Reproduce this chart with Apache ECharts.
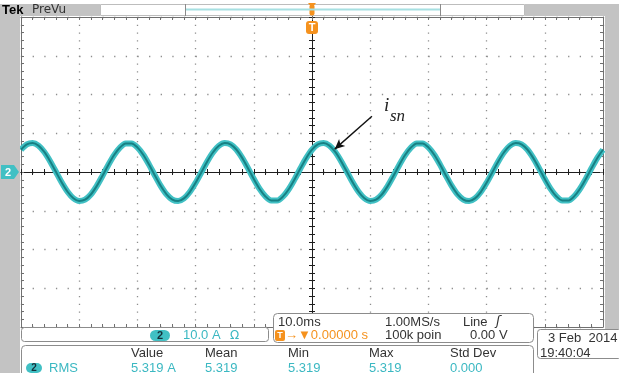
<!DOCTYPE html>
<html>
<head>
<meta charset="utf-8">
<script src="https://cdn.jsdelivr.net/npm/echarts@6/dist/echarts.min.js"></script>
<style>
html, body { margin: 0; padding: 0; background: #fff; }
#scope { width: 619px; height: 373px; }
</style>
</head>
<body>
<div id="scope"></div>
<script>
// time base: 10 ms/div, 10 divisions, trigger at the centre
const timeMin = -50, timeMax = 50, timeDiv = 10;
// channel 2: 10 A/div, 8 divisions
const ampMin = -40, ampMax = 40, ampDiv = 10;

// samples, one per ms from -50 ms
const sampleStartMs = -50;
const sampleStepMs = 1;
const currentA = [
    5.75, 7.12, 7.49, 6.81, 5.17, 2.80, 0.05, -2.72, -5.10, -6.77,
    -7.48, -7.15, -5.81, -3.65, -0.99, 1.82, 4.37, 6.31, 7.36, 7.38,
    6.36, 4.45, 1.91, -0.89, -3.57, -5.75, -7.12, -7.49, -6.81, -5.17,
    -2.80, -0.05, 2.72, 5.10, 6.77, 7.48, 7.15, 5.81, 3.65, 0.99,
    -1.82, -4.37, -6.31, -7.36, -7.38, -6.36, -4.45, -1.91, 0.89, 3.57,
    5.75, 7.12, 7.49, 6.81, 5.17, 2.80, 0.05, -2.72, -5.10, -6.77,
    -7.48, -7.15, -5.81, -3.65, -0.99, 1.82, 4.37, 6.31, 7.36, 7.38,
    6.36, 4.45, 1.91, -0.89, -3.57, -5.75, -7.12, -7.49, -6.81, -5.17,
    -2.80, -0.05, 2.72, 5.10, 6.77, 7.48, 7.15, 5.81, 3.65, 0.99,
    -1.82, -4.37, -6.31, -7.36, -7.38, -6.36, -4.45, -1.91, 0.89, 3.57,
    5.75
];

// annotation arrow (ms, A)
const arrowFrom = [10.3, 14.4];
const arrowTo = [3.9, 5.9];

// readouts
const measHeaders = ["Value", "Mean", "Min", "Max", "Std Dev"];
const measValues = ["5.319 A", "5.319", "5.319", "5.319", "0.000"];

const tracePoints = currentA.map((v, i) => [sampleStartMs + i * sampleStepMs, v]);

const borderColor = "#707070";
const crossColor = "#1e1e1e";
const lightTeal = "#41c0c4";
const darkTeal = "#178083";
const readTeal = "#3bb8c2";
const orange = "#f5921e";
const labelColor = "#333";
const uiFont = "13px 'Liberation Sans', Arial, sans-serif";

function timeAxis(extra, color, inside) {
    return Object.assign({
        type: "value", min: timeMin, max: timeMax, interval: timeDiv,
        axisLabel: { show: false },
        splitLine: { show: false },
        axisLine: { show: true, onZero: false, lineStyle: { color: color, width: 1 } },
        axisTick: { show: true, inside: inside, length: 3, lineStyle: { color: color } },
        minorTick: { show: true, splitNumber: 5, length: 3, lineStyle: { color: color } }
    }, extra);
}

function ampAxis(extra, color, inside) {
    return Object.assign({
        type: "value", min: ampMin, max: ampMax, interval: ampDiv,
        axisLabel: { show: false },
        splitLine: { show: false },
        axisLine: { show: true, onZero: false, lineStyle: { color: color, width: 1 } },
        axisTick: { show: true, inside: inside, length: 3, lineStyle: { color: color } },
        minorTick: { show: true, splitNumber: 5, length: 3, lineStyle: { color: color } }
    }, extra);
}

function txt(x, y, s, color, font, align) {
    return {
        type: "text", z: 20,
        style: {
            x: x, y: y, text: s, fill: color, font: font || uiFont,
            textAlign: align || "left", align: align || "left",
            textVerticalAlign: "middle", verticalAlign: "middle"
        }
    };
}

function box(x, y, w, h, fill, stroke, r) {
    return {
        type: "rect", z: 10,
        shape: { x: x, y: y, width: w, height: h, r: r || 0 },
        style: { fill: fill, stroke: stroke || null, lineWidth: 1 }
    };
}

const chart = echarts.init(document.getElementById("scope"), null, { renderer: "canvas" });

const graphics = [
    // left and right grey bars, top banner
    box(0, 4, 20, 369, "#c3c3c3"),
    box(0, 4, 100, 12, "#c3c3c3"),
    box(525, 4, 94, 12, "#c3c3c3"),
    box(605, 4, 14, 325, "#c3c3c3"),
    box(100.5, 4.5, 424, 11, "#fff", "#bdbdbd"),
    { type: "line", z: 11, shape: { x1: 185.5, y1: 4, x2: 185.5, y2: 16 }, style: { stroke: "#8a8a8a", lineWidth: 1 } },
    { type: "line", z: 11, shape: { x1: 440.5, y1: 4, x2: 440.5, y2: 16 }, style: { stroke: "#8a8a8a", lineWidth: 1 } },
    { type: "line", z: 11, shape: { x1: 186, y1: 9.5, x2: 440, y2: 9.5 }, style: { stroke: "#a6e0e2", lineWidth: 2 } },
    txt(2, 10, "Tek", "#000", "bold 13px 'Liberation Sans', Arial, sans-serif"),
    txt(32, 10, "PreVu", "#333", "12px 'DejaVu Sans', sans-serif"),

    // trigger position markers
    box(309.5, 4.5, 5, 11, orange, null, 2),
    { type: "polygon", z: 11, shape: { points: [[308, 3], [316, 3], [312, 8]] }, style: { fill: orange } },
    box(306, 21, 12, 13, orange, null, 3),
    txt(312, 28, "T", "#fff", "bold 11px 'Liberation Sans', Arial, sans-serif", "center"),

    // channel 2 ground marker
    { type: "polygon", z: 11, shape: { points: [[1, 165], [14, 165], [19, 172], [14, 179], [1, 179]] }, style: { fill: lightTeal } },
    txt(8, 172.5, "2", "#fff", "bold 11px 'Liberation Sans', Arial, sans-serif", "center"),

    // channel readout
    box(21.5, 327.5, 247, 14, "#fff", "#8c8c8c", 3),
    box(150, 330, 20, 11, lightTeal, null, 5.5),
    txt(160, 335.5, "2", "#14303a", "bold 11px 'Liberation Sans', Arial, sans-serif", "center"),
    txt(183, 335.5, "10.0 A", readTeal),
    txt(230, 335.5, "\u03a9", readTeal, "12px 'DejaVu Sans', sans-serif"),

    // time base readout
    box(273.5, 313.5, 260, 29, "#fff", "#8c8c8c", 4),
    txt(278, 322, "10.0ms", labelColor),
    txt(385, 322, "1.00MS/s", labelColor),
    txt(463, 322, "Line", labelColor),
    txt(496, 322, "\u0283", labelColor, "italic 13px 'DejaVu Sans', sans-serif"),
    box(275, 330, 10, 11, orange, null, 2),
    txt(280, 335.5, "T", "#fff", "bold 9px 'Liberation Sans', Arial, sans-serif", "center"),
    txt(285, 335.5, "\u2192\u25bc0.00000 s", orange),
    txt(385, 335.5, "100k poin", labelColor),
    txt(470, 335.5, "0.00 V", labelColor),

    // date box
    box(537.5, 329.5, 84, 29, "#fff", "#8c8c8c", 3),
    txt(548, 338, "3 Feb  2014", labelColor),
    txt(540, 353, "19:40:04", labelColor),

    // measurement box
    box(21.5, 345.5, 512, 32, "#fff", "#8c8c8c", 4),
    box(26, 363, 16, 10, lightTeal, null, 5),
    txt(34, 368, "2", "#14303a", "bold 10px 'Liberation Sans', Arial, sans-serif", "center"),
    txt(49, 368, "RMS", readTeal),

    // annotation label
    txt(384, 106, "i", "#222", "italic 19px 'Liberation Serif', 'DejaVu Serif', serif"),
    txt(390, 117, "sn", "#222", "italic 17px 'Liberation Serif', 'DejaVu Serif', serif")
];

const measX = [131, 205, 288, 369, 450];
measHeaders.forEach((h, i) => graphics.push(txt(measX[i], 353, h, labelColor)));
measValues.forEach((v, i) => graphics.push(txt(measX[i], 368, v, readTeal)));

chart.setOption({
    animation: false,
    backgroundColor: "#fff",
    grid: { left: 21, top: 17, width: 582, height: 310, containLabel: false },
    xAxis: [
        timeAxis({
            position: "bottom",
            splitLine: { show: true, lineStyle: { color: "#8e8e8e", width: 1.3, type: [1.3, 6.45] } }
        }, borderColor, true),
        timeAxis({ position: "top" }, borderColor, true),
        timeAxis({ position: "bottom", axisLine: { show: true, onZero: true, onZeroAxisIndex: 0, lineStyle: { color: crossColor } } }, crossColor, true),
        timeAxis({ position: "bottom", axisLine: { show: true, onZero: true, onZeroAxisIndex: 0, lineStyle: { color: crossColor } } }, crossColor, false)
    ],
    yAxis: [
        ampAxis({
            position: "left",
            splitLine: { show: true, lineStyle: { color: "#8e8e8e", width: 1.3, type: [1.3, 10.34] } }
        }, borderColor, true),
        ampAxis({ position: "right" }, borderColor, true),
        ampAxis({ position: "left", axisLine: { show: true, onZero: true, onZeroAxisIndex: 0, lineStyle: { color: crossColor } } }, crossColor, true),
        ampAxis({ position: "left", axisLine: { show: true, onZero: true, onZeroAxisIndex: 0, lineStyle: { color: crossColor } } }, crossColor, false)
    ],
    series: [
        {
            name: "isn band",
            type: "line",
            data: tracePoints,
            showSymbol: false,
            smooth: 0.3,
            silent: true,
            z: 3,
            lineStyle: { color: lightTeal, width: 6 }
        },
        {
            name: "isn",
            type: "line",
            data: tracePoints,
            showSymbol: false,
            smooth: 0.3,
            silent: true,
            z: 4,
            lineStyle: { color: darkTeal, width: 2 },
            markLine: {
                silent: true,
                symbol: ["none", "arrow"],
                symbolSize: [7, 10],
                label: { show: false },
                lineStyle: { color: "#111", width: 1.4, type: "solid" },
                data: [[{ coord: arrowFrom }, { coord: arrowTo }]]
            }
        }
    ],
    graphic: graphics
});
</script>
</body>
</html>
